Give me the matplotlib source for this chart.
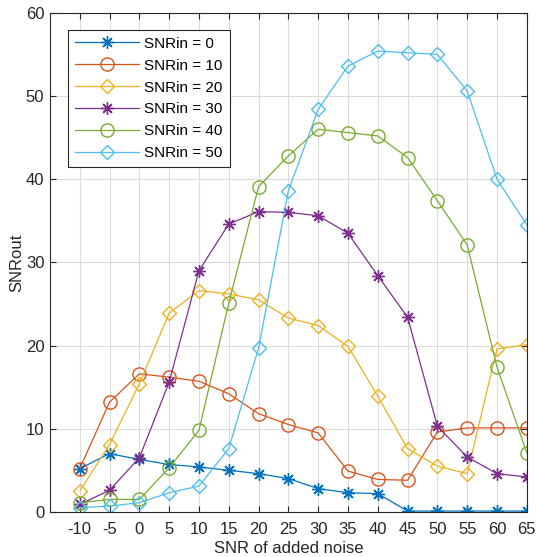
import numpy as np
import matplotlib.pyplot as plt

plt.rcParams['font.family'] = ['Liberation Sans', 'DejaVu Sans']
plt.rcParams['axes.unicode_minus'] = False

# noise levels on the x axis
snr_noise = [-10, -5, 0, 5, 10, 15, 20, 25, 30, 35, 40, 45, 50, 55, 60, 65]

# SNRout, one list per input SNR
snr_in_0 = [5.2, 7.0, 6.3, 5.7, 5.4, 5.0, 4.6, 4.0, 2.8, 2.3, 2.2, 0.1, 0.1, 0.1, 0.1, 0.1]
snr_in_10 = [5.2, 13.2, 16.6, 16.2, 15.7, 14.2, 11.8, 10.5, 9.5, 4.9, 3.9, 3.8, 9.6, 10.1, 10.1, 10.1]
snr_in_20 = [2.5, 8.1, 15.4, 23.9, 26.6, 26.2, 25.5, 23.3, 22.4, 19.9, 13.9, 7.6, 5.5, 4.6, 19.6, 20.1]
snr_in_30 = [0.9, 2.6, 6.5, 15.6, 29.0, 34.6, 36.1, 36.0, 35.6, 33.5, 28.4, 23.4, 10.3, 6.6, 4.6, 4.2]
snr_in_40 = [1.1, 1.5, 1.5, 5.3, 9.8, 25.1, 39.1, 42.8, 46.0, 45.6, 45.2, 42.6, 37.4, 32.1, 17.4, 7.1]
snr_in_50 = [0.5, 0.7, 1.1, 2.3, 3.1, 7.6, 19.7, 38.6, 48.4, 53.6, 55.4, 55.2, 55.0, 50.6, 40.0, 34.5]

labels = ['SNRin = 0', 'SNRin = 10', 'SNRin = 20', 'SNRin = 30', 'SNRin = 40', 'SNRin = 50']
series = [snr_in_0, snr_in_10, snr_in_20, snr_in_30, snr_in_40, snr_in_50]

# matlab default colour order
colors = ['#0072BD', '#D95319', '#EDB120', '#7E2F8E', '#77AC30', '#4DBEEE']
markers = [(8, 2, 0), 'o', 'D', (8, 2, 0), 'o', 'D']
msizes = [9, 9.5, 7.5, 9, 9.5, 7.5]

fig = plt.figure(figsize=(5.37, 5.57), dpi=100)
ax = fig.add_axes([0.093, 0.081, 0.888, 0.896])

for y, lab, c, m, ms in zip(series, labels, colors, markers, msizes):
    ax.plot(snr_noise, y, color=c, marker=m, markersize=ms, markerfacecolor='none',
            markeredgecolor=c, markeredgewidth=1.0, linewidth=0.9, label=lab)

ax.set_xlim(-15, 65)
ax.set_ylim(0, 60)
ax.set_xticks(snr_noise)
ax.set_yticks(np.arange(0, 61, 10))
ax.grid(True, color='#dcdcdc', linewidth=0.8)
ax.set_axisbelow(True)
ax.tick_params(direction='in', labelsize=12, colors='#262626', length=4,
               top=True, right=True, labeltop=False, labelright=False)
ax.tick_params(axis='x', pad=7)
ax.tick_params(axis='y', pad=4)
for s in ax.spines.values():
    s.set_color('#262626')
    s.set_linewidth(0.8)

ax.set_xlabel('SNR of added noise', fontsize=12, color='#262626', labelpad=3)
ax.set_ylabel('SNRout', fontsize=12, color='#262626', labelpad=1)

leg = ax.legend(loc='upper left', bbox_to_anchor=(0.0377, 0.966), borderaxespad=0,
                fontsize=11, handlelength=4.2, handletextpad=0.35, borderpad=0.45,
                labelspacing=0.52, fancybox=False, framealpha=1, edgecolor='#262626')
leg.get_frame().set_linewidth(0.8)

fig.savefig('out.png', dpi=100)
